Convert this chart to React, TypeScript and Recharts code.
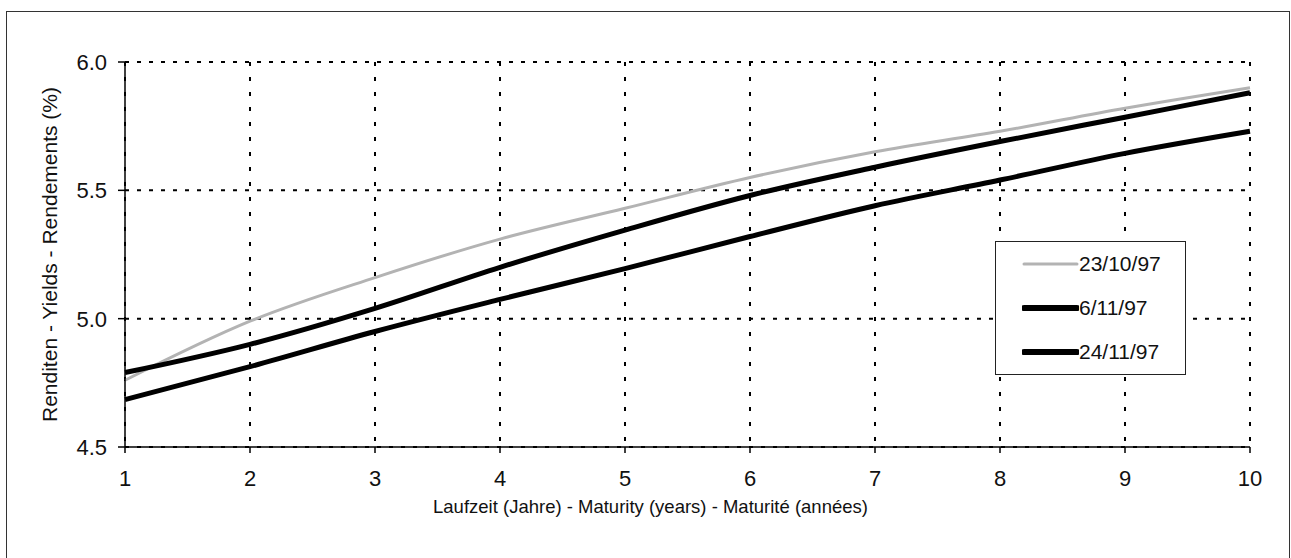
import React from 'react';
import { LineChart, Line, XAxis, YAxis, CartesianGrid, Legend } from 'recharts';

const maturities = [1, 2, 3, 4, 5, 6, 7, 8, 9, 10];
const yields231097 = [4.76, 4.99, 5.16, 5.31, 5.43, 5.55, 5.65, 5.73, 5.82, 5.9];
const yields061197 = [4.79, 4.9, 5.04, 5.2, 5.345, 5.48, 5.59, 5.69, 5.785, 5.88];
const yields241197 = [4.685, 4.813, 4.95, 5.075, 5.195, 5.32, 5.44, 5.54, 5.644, 5.73];
const yTicks = [4.5, 5.0, 5.5, 6.0];
const seriesNames = ['23/10/97', '6/11/97', '24/11/97'];

const data = maturities.map((m, i) => ({
  m,
  a: yields231097[i],
  b: yields061197[i],
  c: yields241197[i],
}));

const FONT = '"Liberation Sans", Arial, Helvetica, sans-serif';
const GREY = '#b3b3b3';

const LegendBox = (props: any) => {
  const items = [...(props.payload || [])].sort(
    (p: any, q: any) => seriesNames.indexOf(p.value) - seriesNames.indexOf(q.value)
  );
  return (
    <div
      style={{
        width: 191,
        boxSizing: 'border-box',
        border: '1.5px solid #222',
        background: '#fff',
        fontFamily: FONT,
        fontSize: 21,
        color: '#111',
      }}
    >
      {items.map((it: any) => (
        <div key={it.value} style={{ height: 44, display: 'flex', alignItems: 'center', paddingLeft: 26 }}>
          <svg width={57} height={10} style={{ display: 'block' }}>
            <line
              x1={2}
              y1={5}
              x2={55}
              y2={5}
              stroke={it.color}
              strokeWidth={it.color === GREY ? 3 : 6}
              strokeLinecap="round"
            />
          </svg>
          <span>{it.value}</span>
        </div>
      ))}
    </div>
  );
};

const YTitle = (props: any) => {
  const vb = props.viewBox || {};
  const cy = vb.y + vb.height / 2;
  const cx = 57;
  return (
    <text
      x={cx}
      y={cy}
      transform={`rotate(-90, ${cx}, ${cy})`}
      textAnchor="middle"
      fontFamily={FONT}
      fontSize={21}
      fill="#111"
    >
      Renditen - Yields - Rendements (%)
    </text>
  );
};

const XTick = (props: any) => {
  const { x, y, payload } = props;
  return (
    <text x={x} y={y} dy={16} textAnchor="middle" fontFamily={FONT} fontSize={22} fill="#111">
      {payload.value}
    </text>
  );
};

const YTick = (props: any) => {
  const { x, y, payload } = props;
  return (
    <text x={x} y={y} dy={8} textAnchor="end" fontFamily={FONT} fontSize={22} fill="#111">
      {Number(payload.value).toFixed(1)}
    </text>
  );
};

export default function App() {
  return (
    <div style={{ position: 'absolute', left: 0, top: 0, width: 1291, height: 558, overflow: 'hidden', background: '#fff' }}>
      <div
        style={{
          position: 'absolute',
          left: 6,
          top: 11,
          width: 1284,
          height: 560,
          border: '1.5px solid #333',
          boxSizing: 'border-box',
        }}
      />
      <div style={{ position: 'absolute', left: 0, top: 0 }}>
        <LineChart
          width={1291}
          height={558}
          data={data}
          margin={{ top: 62, right: 41, bottom: 41, left: 0 }}
          style={{ fontFamily: FONT }}
        >
          <CartesianGrid horizontal={true} vertical={false} stroke="#000" strokeWidth={2} strokeDasharray="4 8" />
          <CartesianGrid horizontal={false} vertical={true} stroke="#000" strokeWidth={2} strokeDasharray="4 11" />
          <XAxis
            dataKey="m"
            type="number"
            domain={[1, 10]}
            ticks={maturities}
            height={70}
            tickSize={6}
            tickMargin={17}
            axisLine={{ stroke: '#000', strokeWidth: 1.5 }}
            tickLine={{ stroke: '#000', strokeWidth: 1.5 }}
            tick={<XTick />}
            label={{
              value: 'Laufzeit (Jahre) - Maturity (years) - Maturité (années)',
              position: 'insideBottom',
              offset: 4,
              dx: -37,
              fill: '#111',
              fontSize: 18.5,
              fontFamily: FONT,
            }}
          />
          <YAxis
            type="number"
            domain={[4.5, 6.0]}
            ticks={yTicks}
            width={125}
            tickSize={7}
            tickMargin={11}
            axisLine={{ stroke: '#000', strokeWidth: 1.5 }}
            tickLine={{ stroke: '#000', strokeWidth: 1.5 }}
            tick={<YTick />}
            label={<YTitle />}
          />
          <Line
            type="monotone"
            dataKey="a"
            name={seriesNames[0]}
            stroke={GREY}
            strokeWidth={3}
            dot={false}
            isAnimationActive={false}
          />
          <Line
            type="monotone"
            dataKey="b"
            name={seriesNames[1]}
            stroke="#000"
            strokeWidth={5}
            dot={false}
            isAnimationActive={false}
          />
          <Line
            type="monotone"
            dataKey="c"
            name={seriesNames[2]}
            stroke="#000"
            strokeWidth={5}
            dot={false}
            isAnimationActive={false}
          />
          <Legend
            layout="vertical"
            align="center"
            verticalAlign="middle"
            wrapperStyle={{ left: 995, top: 241, width: 191 }}
            content={<LegendBox />}
          />
        </LineChart>
      </div>
    </div>
  );
}
